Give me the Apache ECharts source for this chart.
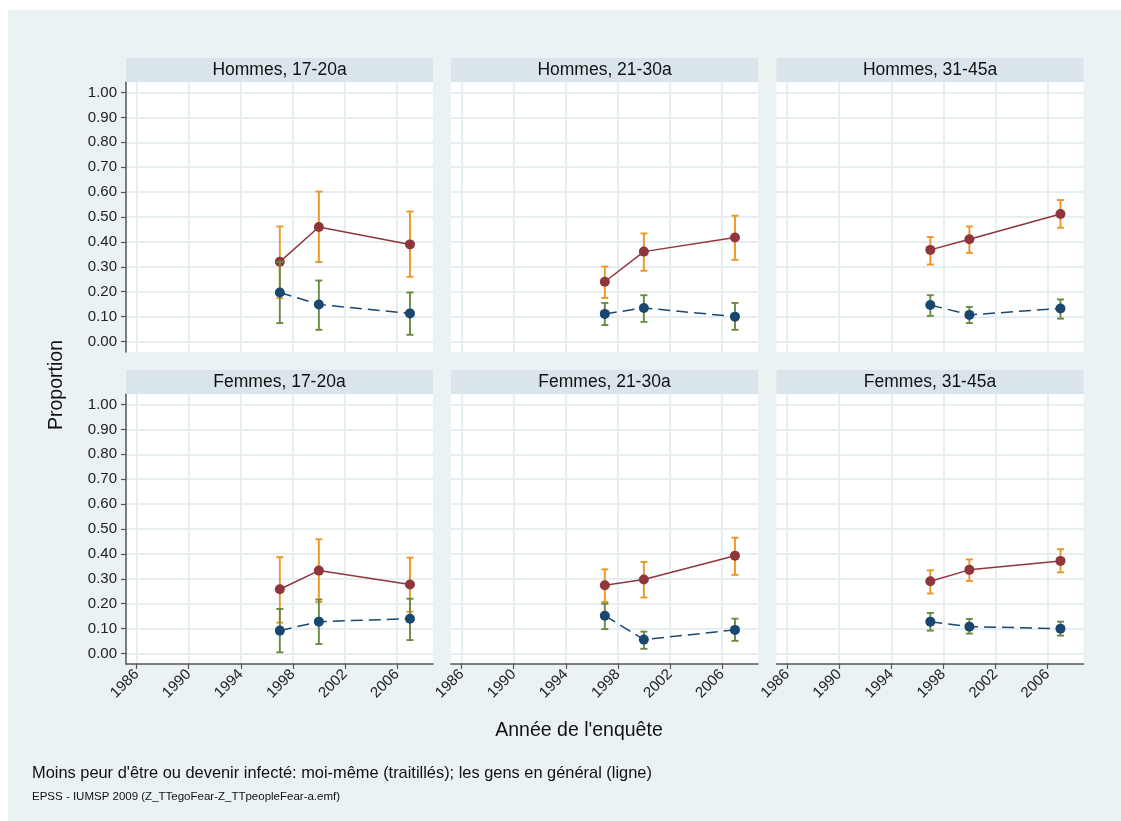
<!DOCTYPE html>
<html><head><meta charset="utf-8">
<script src="https://cdn.jsdelivr.net/npm/echarts@6/dist/echarts.min.js"></script>
<style>
html,body{margin:0;padding:0;background:#fff;}
#c{width:1121px;height:821px;background:linear-gradient(#EAF2F3,#EAF2F3) 8px 10px/1113px 811px no-repeat,#fff;}
</style></head>
<body><div id="c"></div>
<script>
// ---- data ----
const panelTitles = ['Hommes, 17-20a','Hommes, 21-30a','Hommes, 31-45a','Femmes, 17-20a','Femmes, 21-30a','Femmes, 31-45a'];
const years = [1997, 2000, 2007];
const xTickYears = [1986, 1990, 1994, 1998, 2002, 2006];
const yTicks = [0, 0.1, 0.2, 0.3, 0.4, 0.5, 0.6, 0.7, 0.8, 0.9, 1.0];
// people in general (solid line)
const peopleMean = [
  [0.320, 0.460, 0.390],
  [0.240, 0.361, 0.418],
  [0.368, 0.411, 0.512],
  [0.258, 0.333, 0.277],
  [0.274, 0.297, 0.393],
  [0.290, 0.336, 0.372]
];
const peopleLo = [
  [0.174, 0.319, 0.260],
  [0.175, 0.284, 0.328],
  [0.309, 0.356, 0.457],
  [0.124, 0.207, 0.168],
  [0.207, 0.225, 0.316],
  [0.241, 0.291, 0.326]
];
const peopleHi = [
  [0.462, 0.602, 0.522],
  [0.301, 0.434, 0.505],
  [0.420, 0.462, 0.568],
  [0.387, 0.459, 0.385],
  [0.338, 0.368, 0.465],
  [0.334, 0.378, 0.419]
];
// oneself (dashed line)
const egoMean = [
  [0.197, 0.149, 0.113],
  [0.111, 0.135, 0.100],
  [0.147, 0.107, 0.133],
  [0.092, 0.128, 0.140],
  [0.152, 0.056, 0.095],
  [0.128, 0.108, 0.100]
];
const egoLo = [
  [0.074, 0.047, 0.027],
  [0.066, 0.079, 0.047],
  [0.103, 0.074, 0.092],
  [0.005, 0.038, 0.054],
  [0.098, 0.019, 0.051],
  [0.092, 0.080, 0.072]
];
const egoHi = [
  [0.320, 0.245, 0.197],
  [0.155, 0.186, 0.155],
  [0.186, 0.139, 0.169],
  [0.179, 0.217, 0.220],
  [0.200, 0.088, 0.140],
  [0.163, 0.139, 0.128]
];

// ---- layout / style ----
const FONT = "'Liberation Sans', Arial, Helvetica, sans-serif";
const gridLefts = [126, 451, 776.5];
const gridTops = [82, 394];
const GW = 307, GH = 270, STRIP = 24;
const C_NAVY = '#1A476F', C_MAROON = '#90353B', C_GREEN = '#6A8A42', C_ORANGE = '#EE9526';
const GRIDLINE = '#E6EEF1';

function errRender(color) {
  return function (params, api) {
    const x = api.value(0), lo = api.value(1), hi = api.value(2);
    const a = api.coord([x, lo]), b = api.coord([x, hi]);
    const w = 3.5;
    const st = { stroke: color, lineWidth: 1.9 };
    return { type: 'group', children: [
      { type: 'line', shape: { x1: a[0], y1: a[1], x2: b[0], y2: b[1] }, style: st },
      { type: 'line', shape: { x1: a[0] - w, y1: a[1], x2: a[0] + w, y2: a[1] }, style: st },
      { type: 'line', shape: { x1: b[0] - w, y1: b[1], x2: b[0] + w, y2: b[1] }, style: st }
    ]};
  };
}

const grid = [], xAxis = [], yAxis = [], series = [], graphic = [];
for (let i = 0; i < 6; i++) {
  const col = i % 3, row = Math.floor(i / 3);
  const left = gridLefts[col], top = gridTops[row];
  grid.push({ left: left, top: top, width: GW, height: GH, show: true, backgroundColor: '#fff', borderWidth: 0 });
  const bottomRow = row === 1;
  xAxis.push({
    type: 'value', gridIndex: i, min: 1985.18, max: 2008.77,
    axisLine: { show: bottomRow, onZero: false, lineStyle: { color: '#555', width: 1.5 } },
    axisTick: { show: bottomRow, length: 5, customValues: xTickYears, lineStyle: { color: '#555', width: 1.2 } },
    axisLabel: { show: bottomRow, customValues: xTickYears, rotate: 45, margin: 8, color: '#222', fontSize: 15, fontFamily: FONT, formatter: v => String(v) },
    splitLine: { show: true, lineStyle: { color: GRIDLINE, width: 2 } }
  });
  const firstCol = col === 0;
  yAxis.push({
    type: 'value', gridIndex: i, min: -0.042, max: 1.042,
    axisLine: { show: firstCol, onZero: false, lineStyle: { color: '#555', width: 1.5 } },
    axisTick: { show: firstCol, length: 5, customValues: yTicks, lineStyle: { color: '#555', width: 1.2 } },
    axisLabel: { show: firstCol, customValues: yTicks, margin: 9, color: '#222', fontSize: 15, fontFamily: FONT, formatter: v => v.toFixed(2) },
    splitLine: { show: true, lineStyle: { color: GRIDLINE, width: 2 } }
  });
  // header strip
  graphic.push({ type: 'rect', shape: { x: left, y: top - STRIP, width: GW, height: STRIP }, style: { fill: '#D9E5EA' }, z: 1 });
  graphic.push({ type: 'text', x: left + GW / 2, y: top - STRIP / 2, style: { text: panelTitles[i], fill: '#111', font: '17.5px ' + FONT, textAlign: 'center', textVerticalAlign: 'middle' }, z: 2 });

  const pm = years.map((y, k) => [y, peopleMean[i][k]]);
  const em = years.map((y, k) => [y, egoMean[i][k]]);
  const pci = years.map((y, k) => [y, peopleLo[i][k], peopleHi[i][k]]);
  const eci = years.map((y, k) => [y, egoLo[i][k], egoHi[i][k]]);

  series.push({ type: 'custom', xAxisIndex: i, yAxisIndex: i, renderItem: errRender(C_ORANGE), data: pci, encode: { x: 0, y: [1, 2] }, z: 2, silent: true });
  series.push({ type: 'line', xAxisIndex: i, yAxisIndex: i, data: pm, symbol: 'circle', symbolSize: 10, showSymbol: true,
    lineStyle: { color: C_MAROON, width: 1.5 }, itemStyle: { color: C_MAROON }, z: 3, animation: false, silent: true });
  series.push({ type: 'custom', xAxisIndex: i, yAxisIndex: i, renderItem: errRender(C_GREEN), data: eci, encode: { x: 0, y: [1, 2] }, z: 4, silent: true });
  series.push({ type: 'line', xAxisIndex: i, yAxisIndex: i, data: em, symbol: 'circle', symbolSize: 10, showSymbol: true,
    lineStyle: { color: C_NAVY, width: 1.5, type: [12, 6] }, itemStyle: { color: C_NAVY }, z: 5, animation: false, silent: true });
}

graphic.push({ type: 'text', x: 57, y: 385, rotation: Math.PI / 2, style: { text: 'Proportion', fill: '#111', font: '19.5px ' + FONT, textAlign: 'center', textVerticalAlign: 'middle' } });
graphic.push({ type: 'text', x: 579, y: 731, style: { text: "Année de l'enquête", fill: '#111', font: '19.5px ' + FONT, textAlign: 'center', textVerticalAlign: 'middle' } });
graphic.push({ type: 'text', x: 32, y: 773, style: { text: "Moins peur d'être ou devenir infecté: moi-même (traitillés); les gens en général (ligne)", fill: '#111', font: '16.4px ' + FONT, textAlign: 'left', textVerticalAlign: 'middle' } });
graphic.push({ type: 'text', x: 32, y: 797, style: { text: 'EPSS - IUMSP 2009 (Z_TTegoFear-Z_TTpeopleFear-a.emf)', fill: '#111', font: '11.5px ' + FONT, textAlign: 'left', textVerticalAlign: 'middle' } });

const chart = echarts.init(document.getElementById('c'), null, { renderer: 'canvas' });
chart.setOption({ animation: false, grid, xAxis, yAxis, series, graphic });
</script></body></html>
